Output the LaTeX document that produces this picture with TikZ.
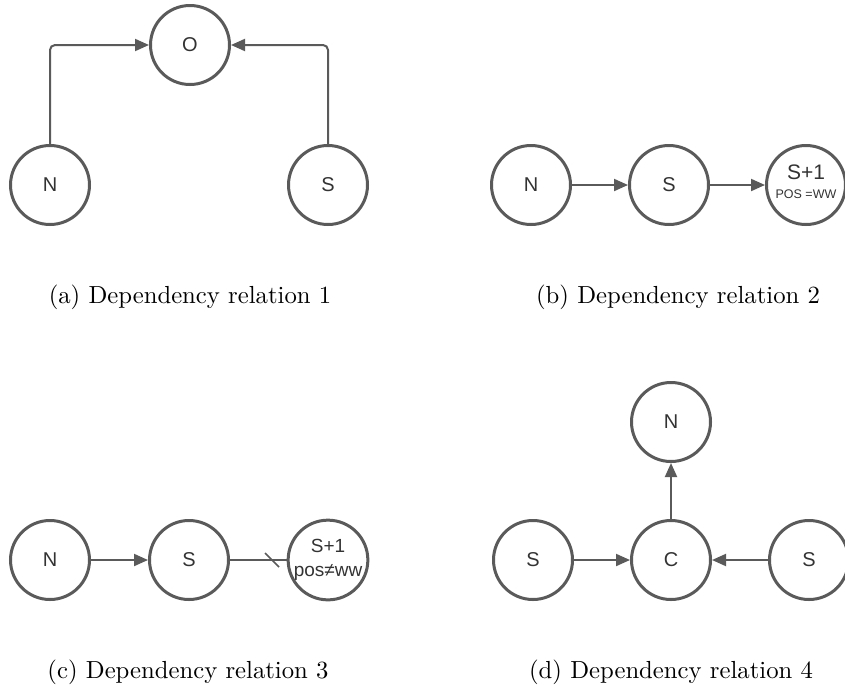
\documentclass[tikz,border=0pt]{standalone}
\usepackage{fontspec}
\newfontfamily\nodefont{Liberation Sans}
\usetikzlibrary{arrows.meta}
\definecolor{edgegray}{HTML}{5A5A5A}
\definecolor{txtgray}{HTML}{333333}
\tikzset{
  circ/.style={circle, draw=edgegray, line width=3pt, minimum size=79pt, inner sep=0pt, text=txtgray, font=\nodefont\fontsize{20}{22}\selectfont},
  conn/.style={draw=edgegray, line width=2pt, -{Triangle[length=14pt,width=12pt]}},
  plainconn/.style={draw=edgegray, line width=2pt},
  captext/.style={scale=2.47, font=\normalsize}
}
\begin{document}
\begin{tikzpicture}[x=1pt,y=-1pt]
\useasboundingbox (0,0) rectangle (845,686);
% (a)
\node[circ] (aO) at (190,45) {O};
\node[circ] (aN) at (50,185) {N};
\node[circ] (aS) at (328,185) {S};
\draw[conn, rounded corners=5pt] (aN.north) |- (aO.west);
\draw[conn, rounded corners=5pt] (aS.north) |- (aO.east);
\node[captext] (capa) at (190,297) {(a) Dependency relation 1};
% (b)
\node[circ] (bN) at (531,185) {N};
\node[circ] (bS) at (669,185) {S};
\node[circ] (bS1) at (806,185) {\raisebox{2pt}{\begin{tabular}{@{}c@{}}\fontsize{21}{21}\selectfont S+1\\[-3pt]\fontsize{12.5}{12.5}\selectfont POS =WW\end{tabular}}};
\draw[conn] (bN) -- (bS);
\draw[conn] (bS) -- (bS1);
\node[captext] (capb) at (678,297) {(b) Dependency relation 2};
% (c)
\node[circ] (cN) at (50,560) {N};
\node[circ] (cS) at (189,560) {S};
\node[circ, align=center] (cS1) at (328,560) {\fontsize{19}{19}\selectfont S+1\\[2pt]\fontsize{19}{19}\selectfont pos≠ww};
\draw[conn] (cN) -- (cS);
\draw[plainconn] (cS) -- (cS1);
\coordinate (sl1) at (265,553);
\coordinate (sl2) at (279,567);
\draw[edgegray, line width=1.5pt] (sl1) -- (sl2);
\node[captext] (capc) at (188,672) {(c) Dependency relation 3};
% (d)
\node[circ] (dN) at (671,422) {N};
\node[circ] (dC) at (671,560) {C};
\node[circ] (dSl) at (533,560) {S};
\node[circ] (dSr) at (809,560) {S};
\draw[conn] (dC) -- (dN);
\draw[conn] (dSl) -- (dC);
\draw[conn] (dSr) -- (dC);
\node[captext] (capd) at (671,672) {(d) Dependency relation 4};
\end{tikzpicture}
\end{document}
